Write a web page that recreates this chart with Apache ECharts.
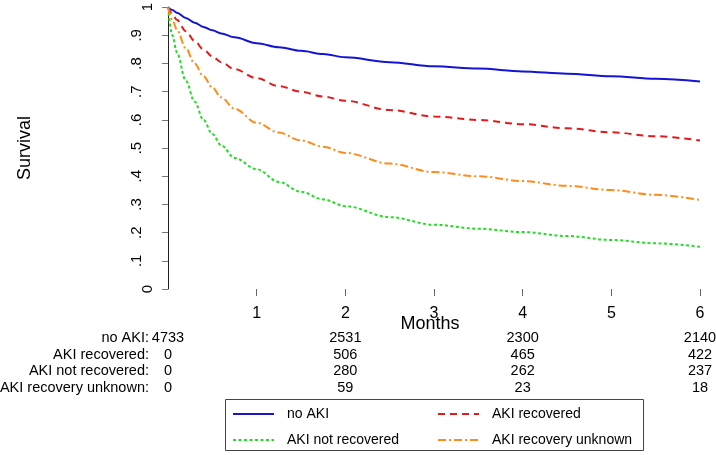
<!DOCTYPE html>
<html>
<head>
<meta charset="utf-8">
<script src="https://cdn.jsdelivr.net/npm/echarts@6/dist/echarts.min.js"></script>
<style>
  html, body { margin: 0; padding: 0; background: #fff; }
  #chart { width: 716px; height: 455px; }
</style>
</head>
<body>
<div id="chart"></div>
<script>
const months = [0, 0.05, 0.1, 0.2, 0.3, 0.4, 0.5, 0.6, 0.75, 1, 1.25, 1.5, 1.75, 2, 2.5, 3, 3.5, 4, 4.5, 5, 5.5, 6]
const noAki = [1, 0.99, 0.98, 0.962, 0.945, 0.93, 0.918, 0.907, 0.893, 0.872, 0.858, 0.845, 0.834, 0.822, 0.805, 0.79, 0.782, 0.772, 0.764, 0.755, 0.746, 0.736]
const akiRecovered = [1, 0.975, 0.955, 0.915, 0.88, 0.85, 0.825, 0.805, 0.78, 0.748, 0.72, 0.7, 0.683, 0.668, 0.635, 0.612, 0.6, 0.585, 0.57, 0.556, 0.542, 0.527]
const akiNotRecovered = [1, 0.9, 0.84, 0.74, 0.665, 0.6, 0.55, 0.51, 0.465, 0.425, 0.38, 0.345, 0.318, 0.294, 0.255, 0.228, 0.214, 0.202, 0.188, 0.174, 0.162, 0.15]
const akiUnknown = [1, 0.955, 0.92, 0.855, 0.8, 0.755, 0.715, 0.68, 0.64, 0.59, 0.555, 0.527, 0.505, 0.483, 0.445, 0.415, 0.4, 0.383, 0.366, 0.351, 0.334, 0.316]

const groupNames = ['no AKI', 'AKI recovered', 'AKI not recovered', 'AKI recovery unknown']
const riskMonths = [0, 2, 4, 6]
const riskNoAki = [4733, 2531, 2300, 2140]
const riskRecovered = [0, 506, 465, 422]
const riskNotRecovered = [0, 280, 262, 237]
const riskUnknown = [0, 59, 23, 18]
const xTicks = [1, 2, 3, 4, 5, 6]

const font = '"Liberation Sans", Arial, Helvetica, sans-serif'
const chart = echarts.init(document.getElementById('chart'))

function pairs(values) {
  return months.map((m, i) => [m, values[i]])
}

function lineSeries(name, values, color, type, width) {
  return {
    name,
    type: 'line',
    data: pairs(values),
    showSymbol: false,
    symbol: 'none',
    smooth: 0.35,
    smoothMonotone: 'x',
    lineStyle: { color, width, type },
    itemStyle: { color },
    emphasis: { disabled: true }
  }
}

const legendText = { fontFamily: font, fontSize: 14, color: '#000', padding: [0, 0, 0, 8] }
const legendBase = {
  orient: 'vertical',
  top: 402,
  itemWidth: 41,
  itemHeight: 14,
  itemGap: 12,
  selectedMode: false,
  itemStyle: { opacity: 0 },
  textStyle: legendText
}

chart.setOption({
  animation: false,
  grid: { left: 168, right: 16, top: 6, bottom: 166 },
  xAxis: {
    type: 'value',
    min: 0,
    max: 6,
    interval: 1,
    name: 'Months',
    nameLocation: 'middle',
    nameGap: 26,
    nameMoveOverlap: false,
    nameTextStyle: { fontFamily: font, fontSize: 18, color: '#000', padding: [0, 8, 0, 0] },
    axisLine: { show: false },
    axisTick: { show: true, length: 7, customValues: xTicks, lineStyle: { color: '#666' } },
    axisLabel: { customValues: xTicks, fontFamily: font, fontSize: 16, color: '#000', margin: 17 },
    splitLine: { show: false }
  },
  yAxis: {
    type: 'value',
    min: 0,
    max: 1,
    interval: 0.1,
    name: 'Survival',
    nameLocation: 'middle',
    nameGap: 134,
    nameMoveOverlap: false,
    nameTextStyle: { fontFamily: font, fontSize: 18, color: '#000' },
    axisLine: { show: true, lineStyle: { color: '#222', width: 1 } },
    axisTick: { show: true, length: 6, lineStyle: { color: '#777' } },
    axisLabel: {
      rotate: 90,
      margin: 13,
      fontFamily: font,
      fontSize: 15,
      color: '#000',
      formatter: (v) => (v === 0 || v === 1) ? '{w|' + v + '}' : '{d|' + v.toFixed(1).replace(/^0/, '') + '}',
      rich: {
        w: { fontFamily: font, fontSize: 15, color: '#000' },
        d: { fontFamily: font, fontSize: 15, color: '#000', padding: [0, 0, 11, 0] }
      }
    },
    splitLine: { show: false }
  },
  legend: [
    Object.assign({}, legendBase, { left: 227, data: [groupNames[0], groupNames[2]] }),
    Object.assign({}, legendBase, { left: 432, data: [groupNames[1], groupNames[3]] })
  ],
  series: [
    lineSeries(groupNames[0], noAki, '#1414d2', 'solid', 2),
    lineSeries(groupNames[1], akiRecovered, '#e31a1c', [7, 5], 2),
    lineSeries(groupNames[2], akiNotRecovered, '#22dd22', [3, 2.5], 2),
    lineSeries(groupNames[3], akiUnknown, '#ff8c1a', [8, 3, 2, 3], 2)
  ]
})

// at-risk table below the axis, placed with the x scale
const riskRows = [riskNoAki, riskRecovered, riskNotRecovered, riskUnknown]
const rowY = [338, 354.5, 371, 387.5]
const elements = []
riskRows.forEach((row, r) => {
  elements.push({
    type: 'text', x: 149, y: rowY[r],
    style: { text: groupNames[r] + ':', font: '14.5px ' + font, fill: '#000', align: 'right', verticalAlign: 'middle' }
  })
  row.forEach((n, c) => {
    const px = chart.convertToPixel({ xAxisIndex: 0 }, riskMonths[c])
    elements.push({
      type: 'text', x: px, y: rowY[r],
      style: { text: String(n), font: '14.5px ' + font, fill: '#000', align: 'center', verticalAlign: 'middle' }
    })
  })
})
elements.push({
  type: 'rect', shape: { x: 225.5, y: 399.5, width: 418, height: 51 },
  style: { fill: 'none', stroke: '#444', lineWidth: 1 }, z: -1
})
chart.setOption({ graphic: elements })
</script>
</body>
</html>
